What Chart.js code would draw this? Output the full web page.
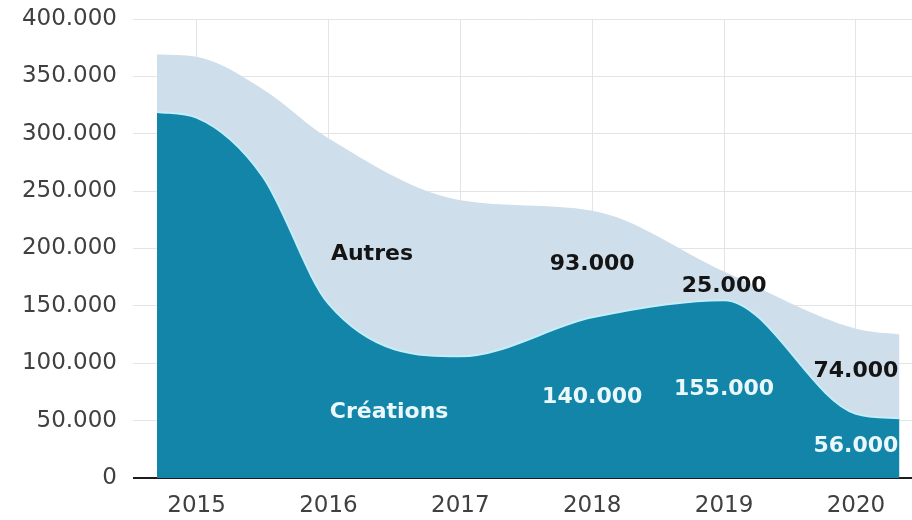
<!DOCTYPE html>
<html>
<head>
<meta charset="utf-8">
<script src="https://cdn.jsdelivr.net/npm/chart.js@4/dist/chart.umd.min.js"></script>
<style>
  html, body { margin: 0; padding: 0; background: #ffffff; }
  #wrap { width: 912px; height: 520px; }
</style>
</head>
<body>
<div id="wrap"><canvas id="c" width="912" height="520"></canvas></div>
<script>
// Yearly positions of the curve (the two outer points give the flat ends of the area)
const years = [2014.7, 2015, 2015.5, 2016, 2017, 2018, 2019, 2020, 2020.33];
const creations = [319000, 314000, 263000, 152000, 106000, 140000, 155000, 56000, 52000];
const autres = [50000, 53000, 76000, 144000, 136000, 93000, 25000, 74000, 73000];

const yearTicks = [2015, 2016, 2017, 2018, 2019, 2020];
const valueTicks = [0, 50000, 100000, 150000, 200000, 250000, 300000, 350000, 400000];
const labelledYears = [2018, 2019, 2020];
const seriesNames = ['Créations', 'Autres'];

const DARK = '#1385a9';
const LIGHT = '#cedeeb';
const FONT_FAMILY = '"DejaVu Sans", sans-serif';

const fmt = v => String(v).replace(/\B(?=(\d{3})+(?!\d))/g, '.');

// Values written inside each band, plus the series names
const bandLabels = {
  id: 'bandLabels',
  afterDatasetsDraw(chart, args, opts) {
    const { ctx, scales: { x, y } } = chart;
    ctx.save();
    ctx.font = 'bold 22px ' + FONT_FAMILY;
    ctx.textAlign = 'center';
    ctx.textBaseline = 'middle';
    labelledYears.forEach(yr => {
      const i = years.indexOf(yr);
      const c = creations[i], a = autres[i];
      const px = x.getPixelForValue(yr);
      ctx.fillStyle = '#eaf8fc';
      ctx.fillText(fmt(c), px, y.getPixelForValue(c / 2));
      ctx.fillStyle = '#141414';
      ctx.fillText(fmt(a), px, y.getPixelForValue(c + a / 2));
    });
    opts.names.forEach(n => {
      ctx.fillStyle = n.color;
      ctx.fillText(n.text, x.getPixelForValue(n.x), y.getPixelForValue(n.y));
    });
    ctx.restore();
  }
};

new Chart(document.getElementById('c'), {
  type: 'line',
  data: {
    datasets: [
      {
        label: seriesNames[0],
        data: years.map((yr, i) => ({ x: yr, y: creations[i] })),
        backgroundColor: DARK,
        borderColor: '#c4eef9',
        borderWidth: 2,
        fill: 'origin',
        pointRadius: 0,
        cubicInterpolationMode: 'monotone'
      },
      {
        label: seriesNames[1],
        data: years.map((yr, i) => ({ x: yr, y: autres[i] })),
        backgroundColor: LIGHT,
        borderColor: LIGHT,
        borderWidth: 0,
        fill: '-1',
        pointRadius: 0,
        cubicInterpolationMode: 'monotone'
      }
    ]
  },
  options: {
    responsive: false,
    animation: false,
    events: [],
    layout: { padding: { top: 19, left: 0, right: 0, bottom: 0 } },
    plugins: {
      legend: { display: false },
      tooltip: { enabled: false },
      bandLabels: {
        names: [
          { text: seriesNames[1], x: 2016.33, y: 195000, color: '#141414' },
          { text: seriesNames[0], x: 2016.46, y: 57000, color: '#eaf8fc' }
        ]
      }
    },
    scales: {
      x: {
        type: 'linear',
        min: 2014.7,
        max: 2020.425,
        afterBuildTicks: s => { s.ticks = yearTicks.map(v => ({ value: v })); },
        afterFit: s => { s.height = 42; },
        border: { display: false },
        grid: { color: '#e4e4e4', lineWidth: 1, drawTicks: false },
        ticks: {
          font: { family: FONT_FAMILY, size: 23 },
          color: '#404040',
          padding: 14,
          maxRotation: 0,
          autoSkip: false,
          callback: v => String(v)
        }
      },
      y: {
        stacked: true,
        min: 0,
        max: 400000,
        afterBuildTicks: s => { s.ticks = valueTicks.map(v => ({ value: v })); },
        afterFit: s => { s.width = 157; },
        border: { display: false },
        grid: {
          color: c => (c.tick && c.tick.value === 0) ? '#1c1c1c' : '#e4e4e4',
          lineWidth: c => (c.tick && c.tick.value === 0) ? 2 : 1,
          tickLength: 24
        },
        ticks: {
          font: { family: FONT_FAMILY, size: 23, lineHeight: 0.2 },
          color: '#404040',
          padding: 16,
          callback: v => fmt(v)
        }
      }
    }
  },
  plugins: [bandLabels]
});
</script>
</body>
</html>
